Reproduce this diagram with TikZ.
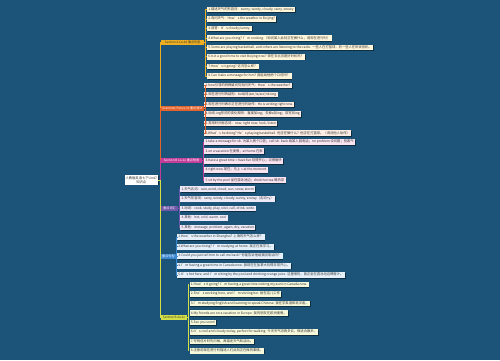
\documentclass[tikz,border=0pt]{standalone}
\usepackage{fontspec}
\setmainfont{Noto Sans CJK SC}
\usetikzlibrary{shadows}
\definecolor{bgc}{HTML}{1B5478}
\definecolor{cA}{HTML}{EDAE22}
\definecolor{cB}{HTML}{E4622B}
\definecolor{cC}{HTML}{C43C9A}
\definecolor{cD}{HTML}{6E56A8}
\definecolor{cE}{HTML}{3A86CF}
\definecolor{cF}{HTML}{D4DE46}
\definecolor{fA}{HTML}{FFF6DC}
\definecolor{fB}{HTML}{FDEDE4}
\definecolor{fC}{HTML}{F9E4F1}
\definecolor{fD}{HTML}{EEEAF7}
\definecolor{fE}{HTML}{E6F0FA}
\definecolor{fF}{HTML}{F6F8DC}
\definecolor{txt}{HTML}{333333}
\tikzset{
  leaf/.style={anchor=west, inner xsep=1.4pt, inner ysep=0.6pt, minimum height=5.6pt,
    font=\fontsize{3.3}{3.6}\selectfont, text=txt,
    drop shadow={shadow xshift=0.7pt, shadow yshift=-0.7pt, fill=black, opacity=0.45}},
  lA/.style={leaf, fill=fA}, lB/.style={leaf, fill=fB}, lC/.style={leaf, fill=fC},
  lD/.style={leaf, fill=fD}, lE/.style={leaf, fill=fE}, lF/.style={leaf, fill=fF},
  branch/.style={anchor=west, inner xsep=1pt, inner ysep=0.5pt, minimum height=5pt,
    font=\fontsize{3.1}{3.5}\selectfont},
  rootbox/.style={fill=white, align=center, inner sep=1pt, minimum width=32.7pt, minimum height=8.6pt,
    font=\fontsize{3.3}{4.0}\selectfont, text=txt,
    drop shadow={shadow xshift=0.7pt, shadow yshift=-0.7pt, fill=black, opacity=0.45}},
  link/.style={line width=0.5pt},
}
\begin{document}
\begin{tikzpicture}[x=1pt,y=-1pt]
\useasboundingbox (0,0) rectangle (500,360);
\fill[bgc] (0,0) rectangle (500,360);

% root
\node[rootbox] (root) at (141.3,180) {人教版英语七下Unit7\\知识点};

% branches
\node[branch, fill=cA, text=txt, minimum width=43pt] (b1) at (161,42.5) {Section A 1a-2d 重点句型};
\node[branch, fill=cB, text=white, minimum width=41pt] (b2) at (161,108.5) {Grammar Focus-3c 重点语法};
\node[branch, fill=cC, text=white, minimum width=40.7pt] (b3) at (161,160.7) {Section B 1a-1e 重点短语};
\node[branch, fill=cD, text=white, minimum width=16.7pt] (b4) at (161,208.3) {重点词汇};
\node[branch, fill=cE, text=white, minimum width=14pt] (b5) at (161,256) {重点句型};
\node[branch, fill=cF, text=txt, minimum width=25.7pt] (b6) at (161,317) {Section B 2a-2c};

\foreach \b/\c in {b1/cA,b2/cB,b3/cC,b4/cD,b5/cE,b6/cF}
  \draw[link, \c] (root.east) -- ++(2.5,0) |- (\b.west);

% branch 1
\node[lA] (a1) at (206.7,9.5) {1.描述天气的形容词：sunny, windy, cloudy, rainy, snowy};
\node[lA] (a2) at (206.7,19) {2.询问天气：How's the weather in Beijing?};
\node[lA] (a3) at (206.7,28.3) {3.回答：It's cloudy/sunny.};
\node[lA] (a4) at (206.7,38) {4.What are you doing? I'm cooking.（询问某人此刻正在做什么，用现在进行时）};
\node[lA] (a5) at (206.7,47.3) {5.Some are playing basketball, and others are listening to the radio. 一些人在打篮球，另一些人在听收音机。};
\node[lA] (a6) at (206.7,56.7) {6.Is it a good time to visit Beijing now? 现在去北京是好时机吗？};
\node[lA] (a7) at (206.7,66.3) {7.How's it going? 近况怎么样？};
\node[lA] (a8) at (206.7,76) {8.Can I take a message for him? 我能给他捎个口信吗？};
\foreach \i in {1,...,8} \draw[link, cA] (b1.east) -- ++(1.3,0) |- (a\i.west);

% branch 2
\node[lB] (g1) at (204,85.5) {1.how引导的特殊疑问句询问天气：How's the weather?};
\node[lB] (g2) at (204,94.5) {2.现在进行时的结构：be动词(am/is/are)+doing};
\node[lB] (g3) at (204,104.5) {3.现在进行时表示正在进行的动作：He is writing right now.};
\node[lB] (g4) at (204,114) {4.动词-ing形式的变化规则：直接加ing；去掉e加ing；双写加ing};
\node[lB] (g5) at (204,123.5) {5.常用时间标志词：now, right now, look, listen};
\node[lB] (g6) at (204,133) {6.What's he doing? He's playing basketball. 他正在做什么？他正在打篮球。（询问他人动作）};
\foreach \i in {1,...,6} \draw[link, cB] (b2.east) -- ++(1.2,0) |- (g\i.west);

% branch 3
\node[lC] (s1) at (204,142) {1.take a message for sb. 为某人捎个口信；call sb. back 给某人回电话；no problem 没问题；别客气};
\node[lC] (s2) at (204,151) {2.on a vacation 在度假；at home 在家};
\node[lC] (s3) at (204,161) {3.have a great time = have fun 玩得开心；过得愉快};
\node[lC] (s4) at (204,170) {4.right now 现在；马上 = at the moment};
\node[lC] (s5) at (204,180) {5.sit by the pool 坐在游泳池边；drink hot tea 喝热茶};
\foreach \i in {1,...,5} \draw[link, cC] (b3.east) -- ++(1.2,0) |- (s\i.west);

% branch 4
\node[lD] (v1) at (180,189) {1.天气名词：rain, wind, cloud, sun, snow, storm};
\node[lD] (v2) at (180,198.7) {2.天气形容词：rainy, windy, cloudy, sunny, snowy（名词+y）};
\node[lD] (v3) at (180,208.3) {3.动词：cook, study, play, visit, call, drink, write};
\node[lD] (v4) at (180,217.7) {4.其他：hot, cold, warm, cool};
\node[lD] (v5) at (180,227.3) {5.其他：message, problem, again, dry, vacation};
\foreach \i in {1,...,5} \draw[link, cD] (b4.east) -- ++(1.2,0) |- (v\i.west);

% branch 5
\node[lE] (k1) at (176.7,237) {1.How's the weather in Shanghai? 上海的天气怎么样？};
\node[lE] (k2) at (176.7,246.7) {2.What are you doing? I'm studying at home. 我正在家学习。};
\node[lE] (k3) at (176.7,256) {3.Could you just tell him to call me back? 你能告诉他给我回电话吗？};
\node[lE] (k4) at (176.7,265.7) {4.I'm having a great time in Canada now. 我现在在加拿大玩得非常开心。};
\node[lE] (k5) at (176.7,275) {5.It's hot here, and I'm sitting by the pool and drinking orange juice. 这里很热，我正坐在游泳池边喝橙汁。};
\foreach \i in {1,...,5} \draw[link, cE] (b5.east) -- ++(0.8,0) |- (k\i.west);

% branch 6
\node[lF] (t1) at (189.3,284.3) {1.How's it going? I'm having a great time visiting my aunt in Canada now.};
\node[lF] (t2) at (189.3,294) {2.She's working here, and I'm visiting her. 她在这儿工作};
\node[lF] (t3) at (189.3,303.3) {3.I'm studying English and learning to speak Chinese. 我在学英语和说汉语。};
\node[lF] (t4) at (189.3,313) {4.My friends are on a vacation in Europe. 我的朋友在欧洲度假。};
\node[lF] (t5) at (189.3,322.3) {5.See you soon!};
\node[lF] (t6) at (189.3,332) {6.It's cool and cloudy today, perfect for walking. 今天天气凉爽多云，很适合散步。};
\node[lF] (t7) at (189.3,341.3) {7.写明信片时先问候，再描述天气和活动。};
\node[lF] (t8) at (189.3,350.7) {8.注意用现在进行时描述人们此刻正在做的事情。};
\foreach \i in {1,...,8} \draw[link, cF] (b6.east) -- ++(1.2,0) |- (t\i.west);
\end{tikzpicture}
\end{document}
